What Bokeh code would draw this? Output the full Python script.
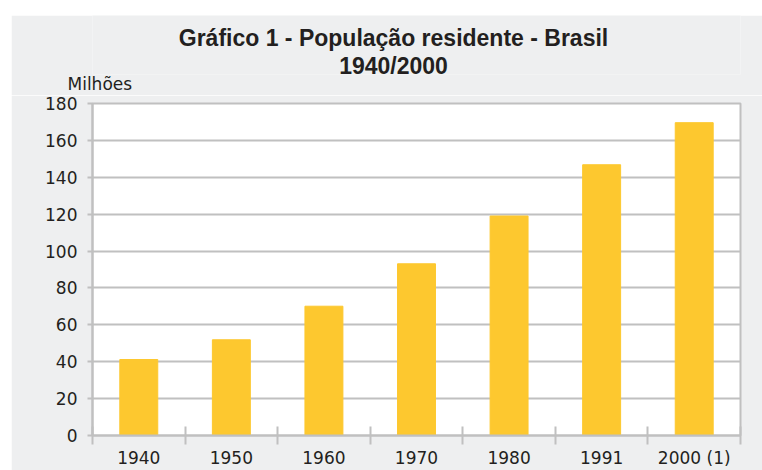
from bokeh.plotting import figure
from bokeh.models import FixedTicker, ColumnDataSource, Range1d, Spacer, Title
from bokeh.core.properties import value
from bokeh.layouts import row, column
from bokeh.embed import file_html
from bokeh.resources import INLINE

years = ["1940", "1950", "1960", "1970", "1980", "1991", "2000 (1)"]
population = [41.2, 51.9, 70.1, 93.1, 119.0, 146.8, 169.6]
y_ticks = [0, 20, 40, 60, 80, 100, 120, 140, 160, 180]
title_line1 = "Gráfico 1 - População residente - Brasil"
title_line2 = "1940/2000"
unit_label = "Milhões"

BG = "#eeeff0"
GRID = "#c0c0c0"
BAR = "#fdc82f"
TXT = "#231f20"
FONT = "DejaVu Sans"
TFONT = "Liberation Sans"

W = 751
LB, RB = 81, 22          # left / right borders shared by both figures
HEAD_H, HEAD_FRAME = 80, 59

# ---- header: titles in pixel space, unit label as a title below ----
head = figure(width=W, height=HEAD_H,
              x_range=Range1d(LB, W - RB), y_range=Range1d(HEAD_FRAME, 0),
              x_axis_type=None, y_axis_type=None, output_backend="svg",
              toolbar_location=None, min_border_left=LB, min_border_right=RB,
              min_border_top=0, min_border_bottom=HEAD_H - HEAD_FRAME)
head.title.visible = False
head.outline_line_color = None
head.grid.visible = False
head.background_fill_color = BG
head.border_fill_color = BG
head.text(x=[382, 382], y=[22.5, 50.5], text=[title_line1, title_line2],
          text_align="center", text_baseline="middle",
          text_font=value(TFONT), text_font_style="bold", text_font_size="23px",
          text_color=TXT)
head.add_layout(Title(text=unit_label, align="left", offset=-25, standoff=-6,
                      vertical_align="bottom", text_font=FONT,
                      text_font_style="normal", text_font_size="17px",
                      text_color=TXT), "below")

# ---- main chart ----
xpos = [i + 0.5 for i in range(len(years))]
src = ColumnDataSource(dict(x=xpos, top=population))

p = figure(width=W, height=455 - HEAD_H, x_range=Range1d(0, len(years)),
           y_range=Range1d(0, 180), output_backend="svg", toolbar_location=None,
           min_border_left=LB, min_border_right=RB,
           min_border_top=8, min_border_bottom=34)
p.title.visible = False
p.border_fill_color = BG
p.background_fill_color = "white"
p.outline_line_color = GRID
p.outline_line_width = 2

p.vbar(x="x", top="top", width=0.41, source=src, color=BAR)

p.ygrid.grid_line_color = GRID
p.ygrid.grid_line_width = 2
p.xgrid.grid_line_color = None
p.yaxis.ticker = FixedTicker(ticks=y_ticks)
p.yaxis.minor_tick_line_color = None
p.yaxis.axis_line_color = GRID
p.yaxis.axis_line_width = 2
p.yaxis.major_tick_line_color = GRID
p.yaxis.major_tick_line_width = 2
p.yaxis.major_tick_out = 5
p.yaxis.major_tick_in = 0
p.yaxis.major_label_standoff = 10
p.yaxis.major_label_text_font = FONT
p.yaxis.major_label_text_font_size = "17px"
p.yaxis.major_label_text_color = TXT

p.xaxis.ticker = FixedTicker(ticks=xpos, minor_ticks=list(range(len(years) + 1)))
p.xaxis.major_label_overrides = {x: y for x, y in zip(xpos, years)}
p.xaxis.axis_line_color = GRID
p.xaxis.axis_line_width = 2
p.xaxis.major_tick_line_color = None
p.xaxis.major_tick_in = 0
p.xaxis.major_tick_out = 0
p.xaxis.minor_tick_line_color = GRID
p.xaxis.minor_tick_line_width = 2
p.xaxis.minor_tick_in = 9
p.xaxis.minor_tick_out = 9
p.xaxis.major_label_standoff = 3
p.xaxis.major_label_text_font = FONT
p.xaxis.major_label_text_font_size = "17px"
p.xaxis.major_label_text_color = TXT

layout = row(Spacer(width=11), column(Spacer(height=15), head, p))
open("out.html", "w").write(file_html(layout, INLINE))
